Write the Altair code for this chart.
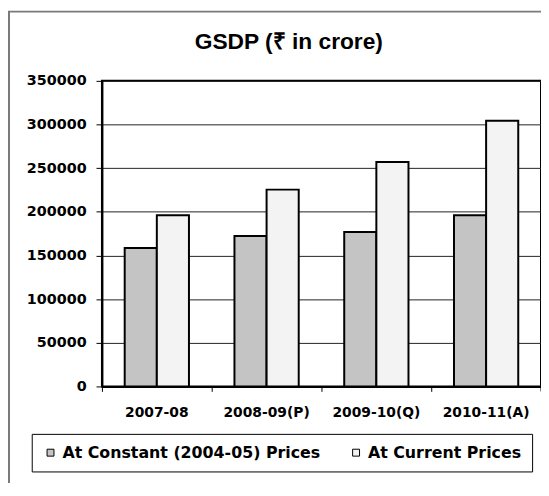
import altair as alt
import pandas as pd

years = ["2007-08", "2008-09(P)", "2009-10(Q)", "2010-11(A)"]
series = ["At Constant (2004-05) Prices", "At Current Prices"]
constant_vals = [158600, 172200, 177000, 196000]
current_vals = [196000, 225400, 257100, 304300]
y_ticks = [0, 50000, 100000, 150000, 200000, 250000, 300000, 350000]

rows = []
for i, yr in enumerate(years):
    rows.append({"year": yr, "series": series[0], "value": constant_vals[i]})
    rows.append({"year": yr, "series": series[1], "value": current_vals[i]})
df = pd.DataFrame(rows)

FONT = "DejaVu Sans"

bars = alt.Chart(df).mark_bar(stroke="black", strokeWidth=2).encode(
    x=alt.X(
        "year:N", sort=years, title=None,
        scale=alt.Scale(paddingInner=0, paddingOuter=0),
        axis=alt.Axis(labelAngle=0, bandPosition=0, tickSize=5, tickColor="black",
                      domain=True, domainColor="black", domainWidth=2,
                      labelFont=FONT, labelFontSize=14, labelFontWeight="bold",
                      labelColor="black", labelPadding=14),
    ),
    xOffset=alt.XOffset("series:N", sort=series,
                        scale=alt.Scale(paddingInner=0, paddingOuter=0.708)),
    y=alt.Y(
        "value:Q", title=None,
        scale=alt.Scale(domain=[0, 350000], nice=False),
        axis=alt.Axis(values=y_ticks, format="d", grid=True, gridColor="#222222",
                      gridWidth=1, tickSize=6, tickColor="black",
                      domainColor="black", domainWidth=2,
                      labelFont=FONT, labelFontSize=14.5, labelFontWeight="bold",
                      labelColor="black", labelPadding=10),
    ),
    color=alt.Color(
        "series:N", sort=series,
        scale=alt.Scale(domain=series, range=["#c4c4c4", "#f3f3f3"]),
        legend=alt.Legend(title=None, orient="none", legendX=-71, legendY=357,
                          direction="horizontal", strokeColor="black", fillColor="white",
                          padding=11, labelFont=FONT, labelFontSize=16,
                          labelFontWeight="bold", labelColor="black", labelLimit=400,
                          symbolType="square", symbolSize=49, symbolStrokeColor="black",
                          symbolStrokeWidth=1, columnPadding=28, labelOffset=4),
    ),
)

end_tick = alt.Chart(pd.DataFrame({"a": [0]})).mark_rule(color="black").encode(
    x=alt.value(444), y=alt.value(309), y2=alt.value(314)
)

frame = alt.Chart(pd.DataFrame({"a": [0]})).mark_rect(
    fillOpacity=0, stroke="#7a7a7a", strokeWidth=2
).encode(x=alt.value(-94), x2=alt.value(470), y=alt.value(-70), y2=alt.value(430))

chart = alt.layer(frame, bars, end_tick).properties(
    width=444, height=309,
    title=alt.TitleParams("GSDP (₹ in crore)", font="Liberation Sans",
                          fontSize=23, fontWeight="bold", color="black",
                          anchor="middle", dx=-33, offset=0, dy=44),
    padding={"left": 95, "top": 71, "right": 0, "bottom": 95},
    autosize=alt.AutoSizeParams(type="none"),
).configure_view(stroke="black", strokeWidth=2)

chart.save("out.html", embed_options={"renderer": "svg", "actions": False})
